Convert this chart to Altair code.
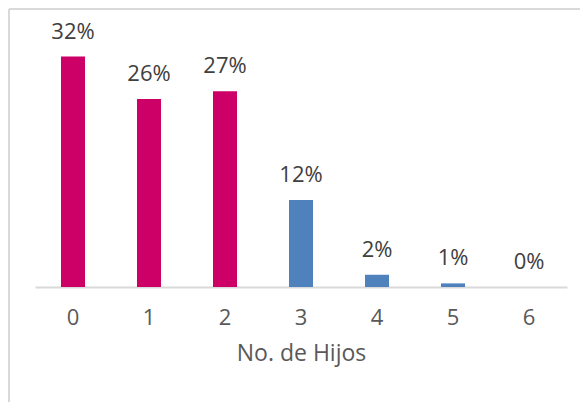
import altair as alt
import pandas as pd

categories = ["0", "1", "2", "3", "4", "5", "6"]
values = [32.0, 26.1, 27.2, 12.1, 1.7, 0.5, 0.0]
labels = ["32%", "26%", "27%", "12%", "2%", "1%", "0%"]
groups = ["a", "a", "a", "b", "b", "b", "b"]

df = pd.DataFrame({"cat": categories, "val": values, "lab": labels, "grp": groups})

FONT = "Open Sans"
W, H = 532, 270

x = alt.X("cat:N", sort=categories, title="No. de Hijos",
          scale=alt.Scale(paddingInner=0, paddingOuter=0),
          axis=alt.Axis(labelAngle=0, ticks=False, labelPadding=20,
                        labelFontSize=22, labelColor="#595959", labelFont=FONT,
                        titleFontSize=23, titleColor="#595959", titleFont=FONT,
                        titleFontWeight="normal", titlePadding=14,
                        domainColor="#D9D9D9", domainWidth=2, grid=False))
y = alt.Y("val:Q", scale=alt.Scale(domain=[0, 37.5]), axis=None)

bars = alt.Chart(df).mark_bar(size=24).encode(
    x=x, y=y,
    color=alt.Color("grp:N", scale=alt.Scale(domain=["a", "b"], range=["#CC0066", "#4F81BD"]), legend=None),
)
text = alt.Chart(df).mark_text(baseline="bottom", dy=-13, fontSize=22, font=FONT, color="#404040").encode(
    x=alt.X("cat:N", sort=categories), y=y, text="lab:N"
)

border_top = alt.Chart(df).mark_rule(color="#D9D9D9", strokeWidth=2).encode(
    x=alt.value(-26), x2=alt.value(W + 20), y=alt.value(-8)
)
border_left = alt.Chart(df).mark_rule(color="#D9D9D9", strokeWidth=2).encode(
    x=alt.value(-26), y=alt.value(-8), y2=alt.value(H + 130)
)

chart = alt.layer(border_top, border_left, bars, text).properties(
    width=W, height=H,
    autosize=alt.AutoSizeParams(type="none"),
    padding={"left": 27, "top": 9, "right": 13, "bottom": 115},
).configure_view(stroke=None)

chart.save("out.html", embed_options={"renderer": "svg", "actions": False})
